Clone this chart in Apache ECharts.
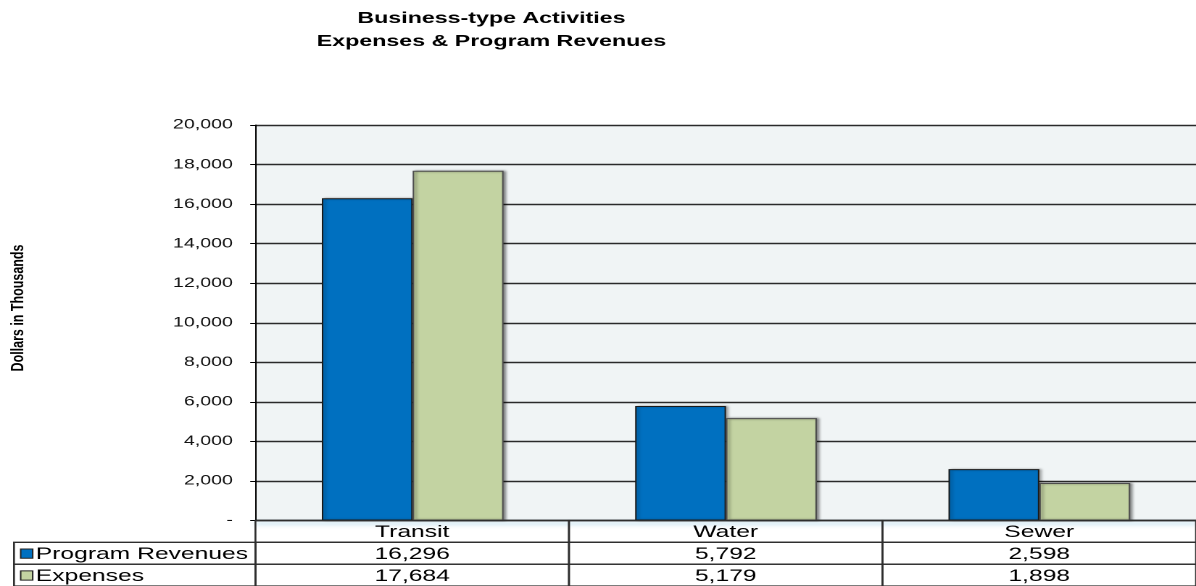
<!DOCTYPE html>
<html>
<head>
<meta charset="utf-8">
<script src="https://cdn.jsdelivr.net/npm/echarts@6/dist/echarts.min.js"></script>
<style>
  html, body { margin: 0; padding: 0; background: #ffffff; }
  #wrap { width: 1196px; height: 586px; overflow: hidden; position: relative; }
  #chart { width: 825px; height: 586px; transform: scaleX(1.449697); transform-origin: 0 0; }
</style>
</head>
<body>
<div id="wrap"><div id="chart"></div></div>
<script>
// ---- data ----
const titleLines = ['Business-type Activities', 'Expenses & Program Revenues'];
const yAxisTitle = 'Dollars in Thousands';
const categories = ['Transit', 'Water', 'Sewer'];
const seriesNames = ['Program Revenues', 'Expenses'];
const programRevenues = [16296, 5792, 2598];
const expenses = [17684, 5179, 1898];
const yTickLabels = ['-', '2,000', '4,000', '6,000', '8,000', '10,000', '12,000', '14,000', '16,000', '18,000', '20,000'];
const yMax = 20000;
const yStep = 2000;

// ---- styles ----
const SX = 1.449697;               // horizontal stretch of the page
const colors = ['#0070C0', '#C3D3A2'];
const borders = ['#1a1a1a', '#4d4d4d'];
const FONT = '"Liberation Sans", Arial, Helvetica, sans-serif';

// table cells built from the data arrays: [x0, x1, row, text, swatchIndex]
const seriesValues = [programRevenues, expenses];
const fmt = v => v.toLocaleString('en-US');
const tableCells = [];
categories.forEach((c, i) => tableCells.push([i, i + 1, 0, c, -1]));
seriesNames.forEach((n, s) => {
  tableCells.push([-0.77, 0, s + 1, n, s]);
  seriesValues[s].forEach((v, i) => tableCells.push([i, i + 1, s + 1, fmt(v), -1]));
});

const chart = echarts.init(document.getElementById('chart'), null, { devicePixelRatio: 2 });

const option = {
  backgroundColor: '#ffffff',
  animation: false,
  title: {
    text: titleLines.join('\n'),
    left: 339,
    top: 7,
    padding: 0,
    textAlign: 'center',
    textStyle: { fontFamily: FONT, fontWeight: 'bold', fontSize: 16, lineHeight: 23, color: '#000' }
  },
  graphic: [{
    type: 'text',
    x: 12.8,
    y: 308,
    rotation: Math.PI / 2,
    scaleX: 0.78,
    scaleY: 1.12 / SX,
    style: {
      text: yAxisTitle,
      font: 'bold 16px "Liberation Sans Narrow", "Liberation Sans", Arial, sans-serif',
      fill: '#000',
      align: 'center',
      verticalAlign: 'middle'
    }
  }],
  grid: [
    { left: 176.6, top: 125, width: 650.5, height: 395.5, show: true, backgroundColor: '#F0F4F5', borderWidth: 0 },
    { left: 9.66, top: 520.5, width: 817.4, height: 68 }
  ],
  xAxis: [
    {
      type: 'category', gridIndex: 0, data: categories,
      axisLine: { show: true, lineStyle: { color: '#111', width: 1.4, shadowColor: 'rgba(140,200,225,0.9)', shadowBlur: 4, shadowOffsetY: 3 } },
      axisTick: { show: false }, axisLabel: { show: false }, splitLine: { show: false }
    },
    { type: 'value', gridIndex: 1, min: -0.77, max: 3, show: false }
  ],
  yAxis: [
    {
      type: 'value', gridIndex: 0, min: 0, max: yMax, interval: yStep,
      axisLine: { show: true, lineStyle: { color: '#000', width: 1 } },
      axisTick: { show: true, length: 4, lineStyle: { color: '#000', width: 1 } },
      axisLabel: {
        margin: 16, color: '#111', fontSize: 13.5, fontFamily: FONT,
        formatter: v => yTickLabels[Math.round(v / yStep)]
      },
      splitLine: { show: true, lineStyle: { color: '#2a2a2a', width: 1.4 } }
    },
    { type: 'value', gridIndex: 1, min: 0, max: 3, inverse: true, show: false }
  ],
  series: [
    {
      name: seriesNames[0], type: 'bar', xAxisIndex: 0, yAxisIndex: 0,
      data: programRevenues, barGap: '0%', barCategoryGap: '42%',
      itemStyle: { color: colors[0], borderColor: borders[0], borderWidth: 1,
        shadowColor: 'rgba(0,0,0,0.3)', shadowBlur: 2, shadowOffsetX: 1.5 }
    },
    {
      name: seriesNames[1], type: 'bar', xAxisIndex: 0, yAxisIndex: 0,
      data: expenses, barGap: '0%', barCategoryGap: '42%',
      itemStyle: { color: colors[1], borderColor: borders[1], borderWidth: 1,
        shadowColor: 'rgba(0,0,0,0.45)', shadowBlur: 2, shadowOffsetX: 1.5 }
    },
    {
      type: 'custom', xAxisIndex: 1, yAxisIndex: 1,
      data: tableCells.map(c => [c[0], c[1], c[2]]),
      encode: { x: [0, 1], y: 2 },
      silent: true,
      z: 5,
      renderItem: function (params, api) {
        const cell = tableCells[params.dataIndex];
        const p0 = api.coord([cell[0], cell[2]]);
        const p1 = api.coord([cell[1], cell[2] + 1]);
        const x = p0[0], y = p0[1], w = p1[0] - p0[0], h = p1[1] - p0[1];
        const children = [{
          type: 'rect',
          shape: { x: x, y: y, width: w, height: h },
          style: { fill: 'none', stroke: '#2e2e2e', lineWidth: 1.3 }
        }];
        if (cell[4] >= 0) {
          children.push({
            type: 'rect',
            shape: { x: x + 4.6, y: y + h / 2 - 4.2, width: 8.3, height: 9.2 },
            style: { fill: colors[cell[4]], stroke: '#222', lineWidth: 1 }
          });
          children.push({
            type: 'text',
            style: { text: cell[3], x: x + 15, y: y + h / 2 + 1, align: 'left', verticalAlign: 'middle',
              fontSize: 17, fontFamily: FONT, fill: '#000' }
          });
        } else {
          children.push({
            type: 'text',
            style: { text: cell[3], x: x + w / 2, y: y + h / 2 + 1, align: 'center', verticalAlign: 'middle',
              fontSize: 17, fontFamily: FONT, fill: '#000' }
          });
        }
        return { type: 'group', children: children };
      }
    }
  ]
};
chart.setOption(option);
</script>
</body>
</html>
